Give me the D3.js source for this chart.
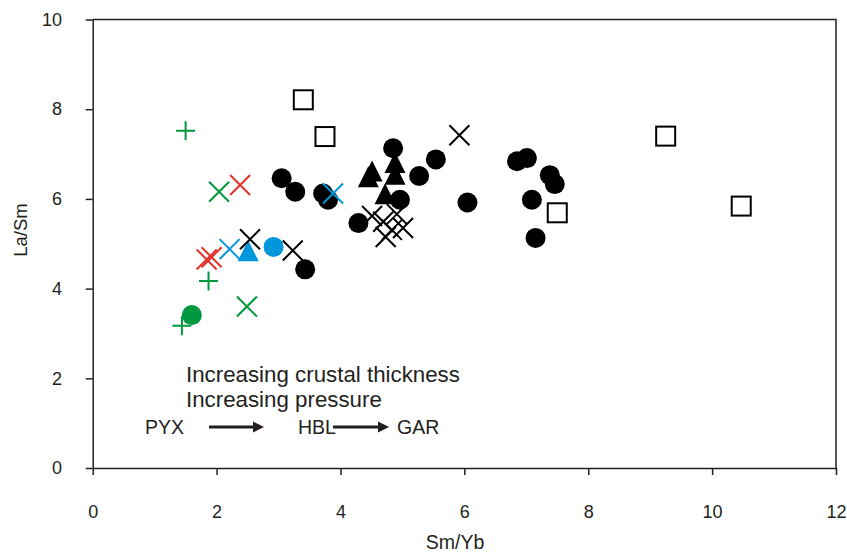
<!DOCTYPE html>
<html>
<head>
<meta charset="utf-8">
<script src="https://cdn.jsdelivr.net/npm/d3@7"></script>
<style>
  body { margin: 0; background: #fff; }
  text { font-family: "Liberation Sans", Arial, sans-serif; fill: #231f20; }
</style>
</head>
<body>
<div id="chart"></div>
<script>
// data, [Sm/Yb, La/Sm]
const blackCircles = [
  [3.05, 6.46], [3.27, 6.16], [3.72, 6.12], [3.80, 5.98], [4.29, 5.46], [3.43, 4.43],
  [4.85, 7.13], [4.96, 5.98], [5.27, 6.51], [5.54, 6.88], [6.05, 5.92],
  [6.85, 6.84], [7.01, 6.91], [7.38, 6.53], [7.46, 6.33], [7.09, 5.98], [7.15, 5.13]
];
const blackTriangles = [[4.45, 6.47], [4.51, 6.60], [4.88, 6.79], [4.88, 6.53], [4.72, 6.09]];
const blackSquares = [[3.40, 8.21], [3.75, 7.39], [7.50, 5.69], [9.25, 7.40], [10.47, 5.84]];
const blackCrosses = [
  [2.54, 5.10], [3.23, 4.85], [5.92, 7.42],
  [4.51, 5.62], [4.69, 5.49], [4.83, 5.31], [4.91, 5.66], [5.01, 5.35], [4.73, 5.15]
];
const blueCircles = [[2.92, 4.93]];
const blueTriangles = [[2.51, 4.82]];
const blueCrosses = [[2.21, 4.88], [3.88, 6.12]];
const redCrosses = [[2.38, 6.31], [1.84, 4.65], [1.92, 4.70]];
const greenCircles = [[1.60, 3.41]];
const greenCrosses = [[2.04, 6.16], [2.49, 3.60]];
const greenPlus = [[1.50, 7.52], [1.87, 4.17], [1.44, 3.17]];

const xTicks = [0, 2, 4, 6, 8, 10, 12];
const yTicks = [0, 2, 4, 6, 8, 10];

const black = "#000", blue = "#0096db", red = "#e4322b", green = "#00983f";

const W = 847, H = 554;
const margin = {top: 19.5, right: 11, bottom: 86, left: 92.7};
const width = W - margin.left - margin.right,
      height = H - margin.top - margin.bottom;

const svg = d3.select("#chart").append("svg")
    .attr("width", W).attr("height", H);
const g = svg.append("g")
    .attr("transform", `translate(${margin.left},${margin.top})`);

const x = d3.scaleLinear().domain([0, 12]).range([0, width]);
const y = d3.scaleLinear().domain([0, 10]).range([height, 0]);

// frame on top and right
g.append("path")
    .attr("d", `M0,0H${width}V${height}`)
    .attr("fill", "none").attr("stroke", "#231f20").attr("stroke-width", 1.5);

// axes
const xAxis = g.append("g")
    .attr("transform", `translate(0,${height})`)
    .call(d3.axisBottom(x).tickValues(xTicks).tickSize(7).tickSizeOuter(0).tickPadding(30));
const yAxis = g.append("g")
    .call(d3.axisLeft(y).tickValues(yTicks).tickSize(7).tickSizeOuter(0).tickPadding(23.7));
[xAxis, yAxis].forEach(a => {
  a.select(".domain").attr("stroke", "#231f20").attr("stroke-width", 1.5);
  a.selectAll(".tick line").attr("stroke", "#231f20").attr("stroke-width", 1.5);
  a.selectAll(".tick text").attr("fill", "#231f20")
      .style("font-size", "18px").style("font-family", '"Liberation Sans", Arial, sans-serif');
});

// axis titles
svg.append("text")
    .attr("x", 455).attr("y", 549)
    .attr("text-anchor", "middle")
    .style("font-size", "19.5px")
    .text("Sm/Yb");
svg.append("text")
    .attr("transform", "translate(27,230) rotate(-90)")
    .attr("text-anchor", "middle")
    .style("font-size", "18.5px")
    .text("La/Sm");

// marker drawing helpers
function drawCircles(data, col) {
  g.append("g").selectAll("circle").data(data).join("circle")
      .attr("cx", d => x(d[0])).attr("cy", d => y(d[1]))
      .attr("r", 10).attr("fill", col);
}
function drawTriangles(data, col) {
  g.append("g").selectAll("path").data(data).join("path")
      .attr("d", d => `M${x(d[0])},${y(d[1]) - 11.5}l10.5,21h-21z`)
      .attr("fill", col);
}
function drawSquares(data, col) {
  g.append("g").selectAll("rect").data(data).join("rect")
      .attr("x", d => x(d[0]) - 9.5).attr("y", d => y(d[1]) - 9.5)
      .attr("width", 19).attr("height", 19)
      .attr("fill", "#fff").attr("stroke", col).attr("stroke-width", 2);
}
function drawCrosses(data, col) {
  g.append("g").selectAll("path").data(data).join("path")
      .attr("d", d => `M${x(d[0]) - 10},${y(d[1]) - 10}l20,20M${x(d[0]) - 10},${y(d[1]) + 10}l20,-20`)
      .attr("stroke", col).attr("stroke-width", 2).attr("fill", "none");
}
function drawPlus(data, col) {
  g.append("g").selectAll("path").data(data).join("path")
      .attr("d", d => `M${x(d[0]) - 9.5},${y(d[1])}h19M${x(d[0])},${y(d[1]) - 9.5}v19`)
      .attr("stroke", col).attr("stroke-width", 2).attr("fill", "none");
}

drawSquares(blackSquares, black);
drawCircles(blackCircles, black);
drawTriangles(blackTriangles, black);
drawCircles(greenCircles, green);
drawCircles(blueCircles, blue);
drawTriangles(blueTriangles, blue);
drawCrosses(blackCrosses, black);
drawCrosses(blueCrosses, blue);
drawCrosses(redCrosses, red);
drawCrosses(greenCrosses, green);
drawPlus(greenPlus, green);

// annotation
svg.append("text").attr("x", 186).attr("y", 381.5)
    .style("font-size", "22.3px").text("Increasing crustal thickness");
svg.append("text").attr("x", 186).attr("y", 406.5)
    .style("font-size", "22.3px").text("Increasing pressure");
[["PYX", 145], ["HBL", 298], ["GAR", 397]].forEach(t => {
  svg.append("text").attr("x", t[1]).attr("y", 433.5)
      .style("font-size", "19.5px").text(t[0]);
});
function arrow(x0, x1, yy) {
  svg.append("line").attr("x1", x0).attr("x2", x1 - 9).attr("y1", yy).attr("y2", yy)
      .attr("stroke", "#231f20").attr("stroke-width", 3);
  svg.append("path").attr("d", `M${x1},${yy}l-11,-5.5v11z`).attr("fill", "#231f20");
}
arrow(209, 264, 427);
arrow(333, 389, 427);
</script>
</body>
</html>
